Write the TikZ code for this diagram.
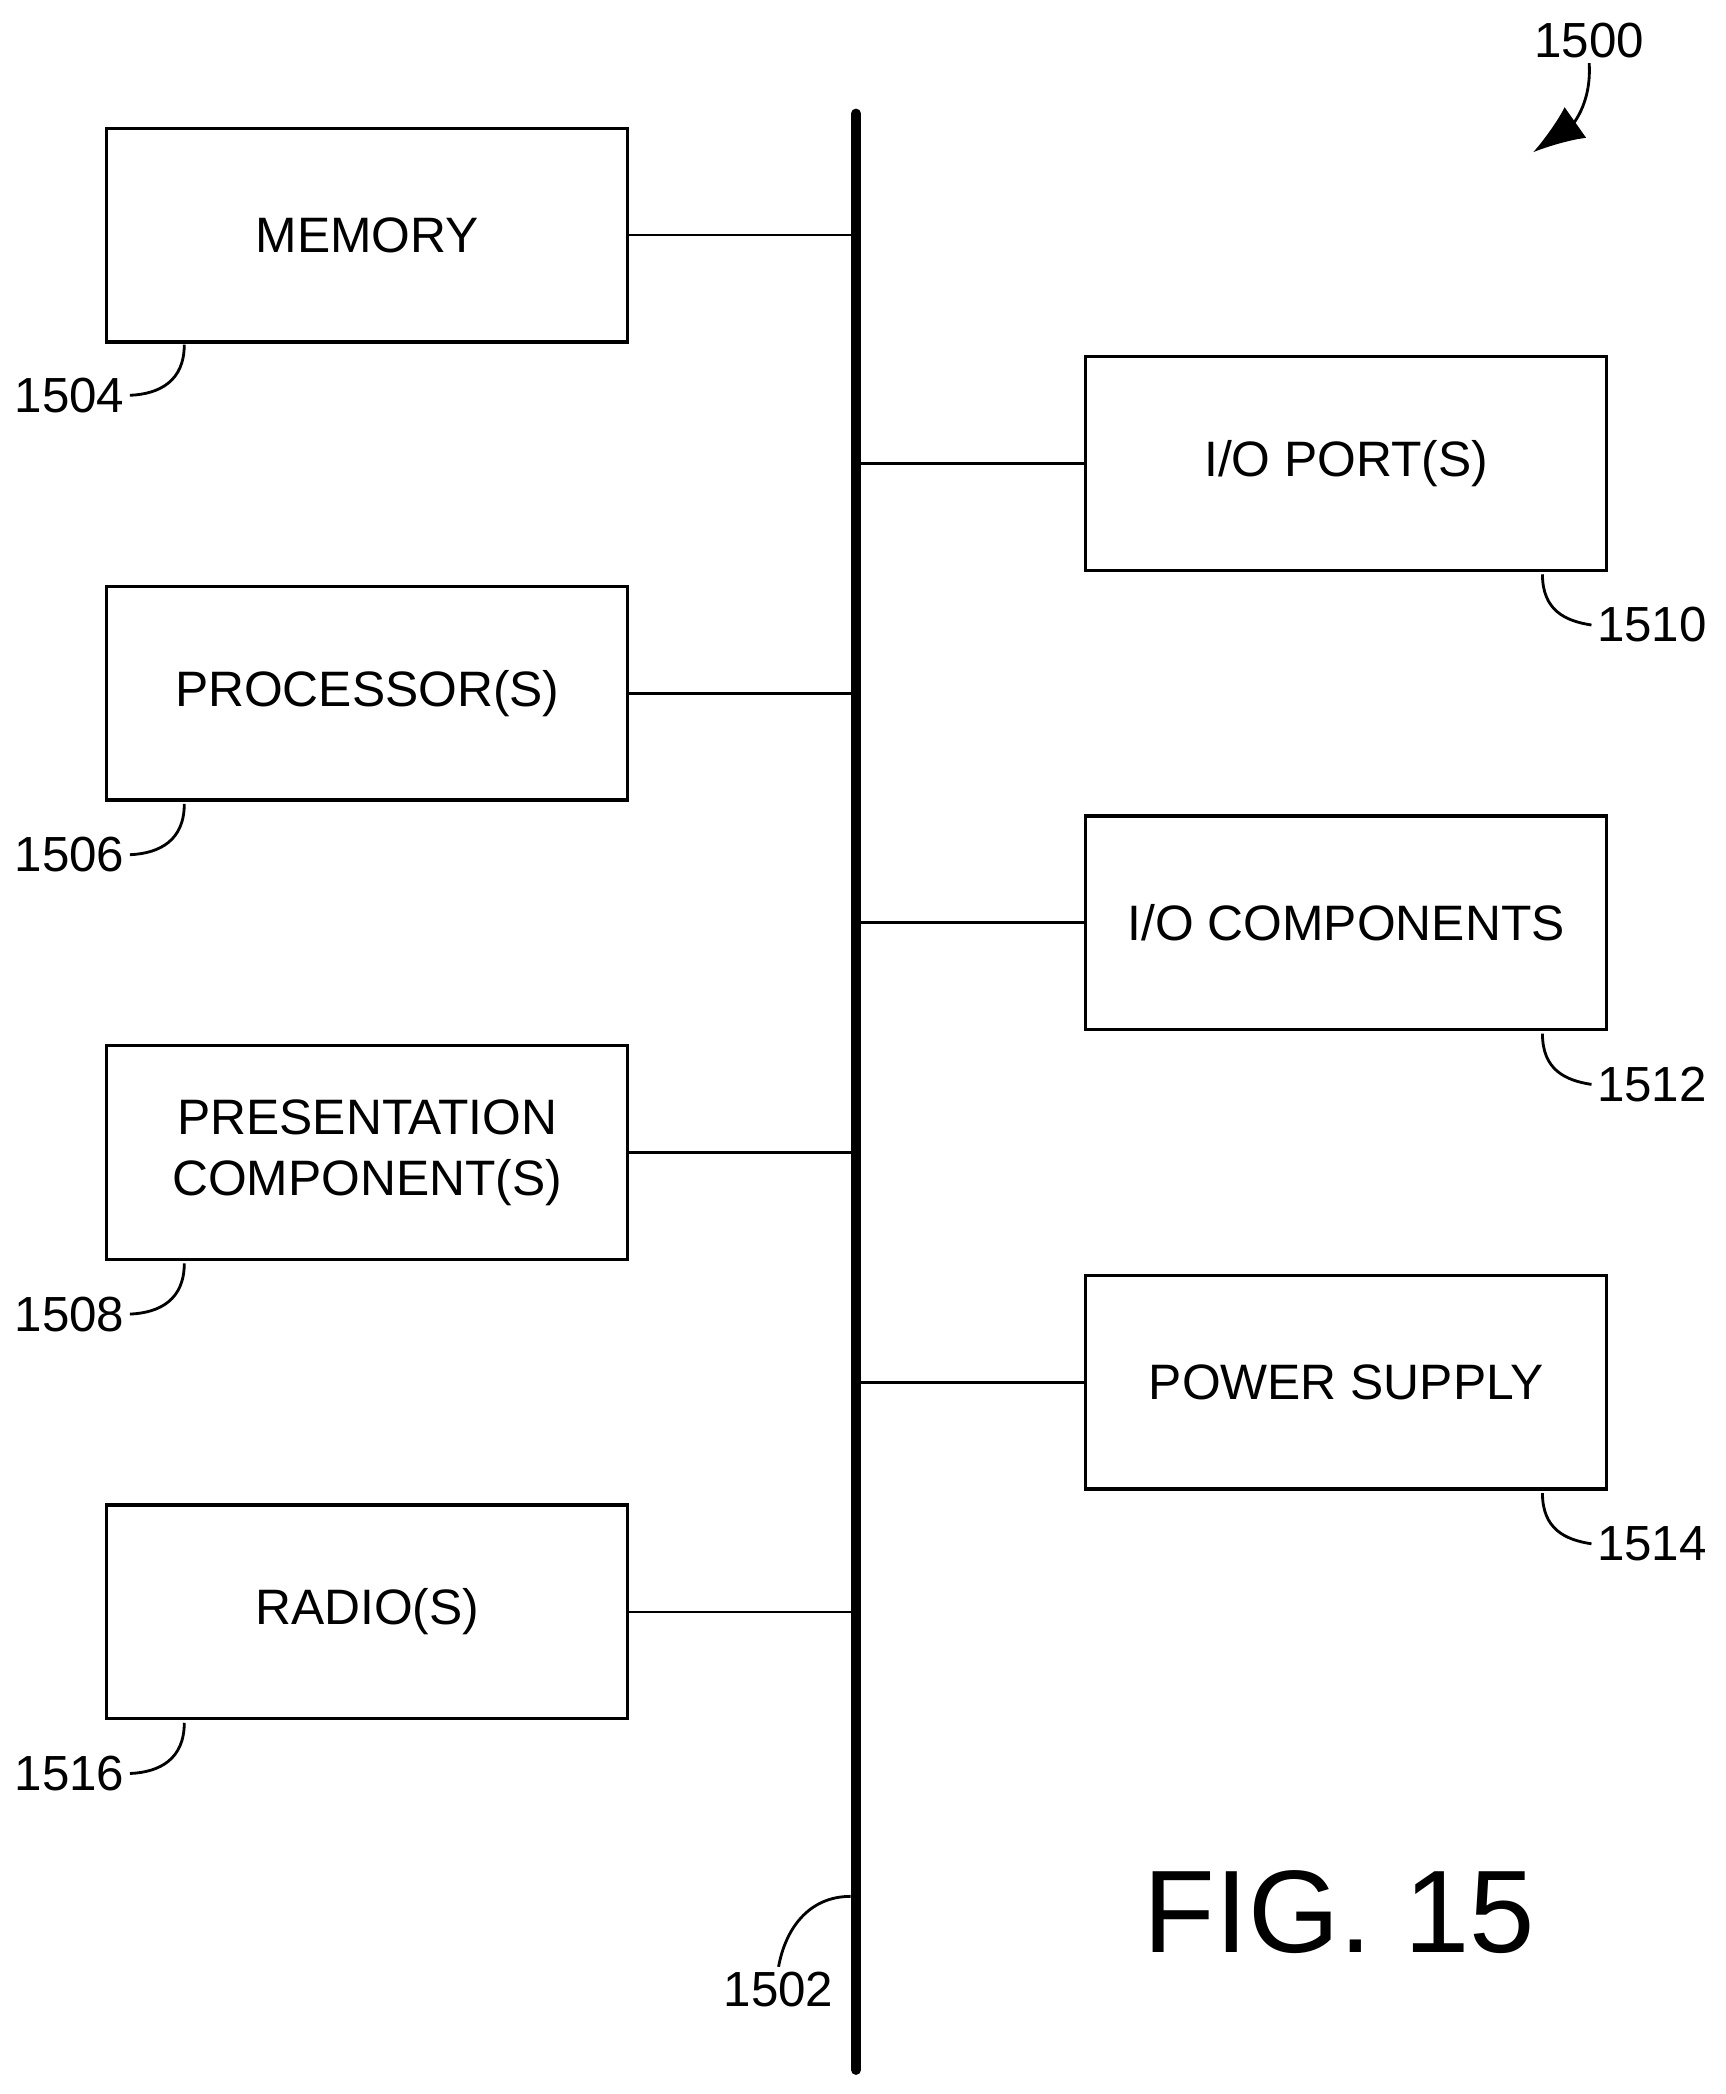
\documentclass[tikz,border=0pt]{standalone}
\usepackage{fontspec}
\setmainfont{Liberation Sans}
\usetikzlibrary{arrows.meta}
\begin{document}
\begin{tikzpicture}[x=0.01cm,y=-0.01cm,
  box/.style={draw,line width=0.7pt,minimum width=390*0.01cm,minimum height=160*0.01cm,align=center,font=\fontsize{10.6}{13}\selectfont,inner sep=0pt},
  lbl/.style={font=\fontsize{10.5}{12}\selectfont,inner sep=1pt},
  wire/.style={line width=0.6pt},
  lead/.style={line width=0.6pt}]
\useasboundingbox (0,0) rectangle (1292,1568);
\coordinate (bt) at (641,85);
\coordinate (bb) at (641,1550);
\draw[line width=2.1pt,line cap=round] (bt) -- (bb);
\node[box] (mem) at (275,176) {MEMORY};
\node[box] (proc) at (275,519) {PROCESSOR(S)};
\node[box] (pres) at (275,863) {PRESENTATION\\COMPONENT(S)};
\node[box] (rad) at (275,1207) {RADIO(S)};
\node[box] (iop) at (1008,347) {I/O PORT(S)};
\node[box] (ioc) at (1008,691) {I/O COMPONENTS};
\node[box] (pow) at (1008,1035) {POWER SUPPLY};
\foreach \n/\y in {mem/176,proc/519,pres/863,rad/1207}{
  \coordinate (c\n) at (637,\y);
  \draw[wire] (\n.east) -- (c\n);}
\foreach \n/\y in {iop/347,ioc/691,pow/1035}{
  \coordinate (c\n) at (645,\y);
  \draw[wire] (c\n) -- (\n.west);}
\foreach \n/\t/\y in {mem/1504/255,proc/1506/599,pres/1508/943,rad/1516/1287}{
  \node[lbl] (l\t) at (52,\y+41) {\t};
  \draw[lead] (138,\y+3) .. controls (138,\y+30) and (120,\y+40) .. (l\t.east);}
\foreach \n/\t/\y in {iop/1510/427,ioc/1512/771,pow/1514/1115}{
  \node[lbl] (l\t) at (1237,\y+41) {\t};
  \draw[lead] (1155,\y+3) .. controls (1155,\y+30) and (1172,\y+38) .. (l\t.west);}
\node[lbl] (l1500) at (1190,30) {1500};
\coordinate (a1500) at (1148,114);
\draw[lead,-{Latex[length=11pt,width=8pt]}] (l1500.south) .. controls (1192,80) and (1175,95) .. (a1500);
\node[lbl] (l1502) at (583,1490) {1502};
\coordinate (b1502) at (637,1420);
\draw[lead] (b1502) .. controls (605,1420) and (588,1445) .. (l1502.north);
\node[font=\fontsize{25}{30}\selectfont,inner sep=0pt] (fig) at (1003,1432) {FIG. 15};
\end{tikzpicture}
\end{document}
